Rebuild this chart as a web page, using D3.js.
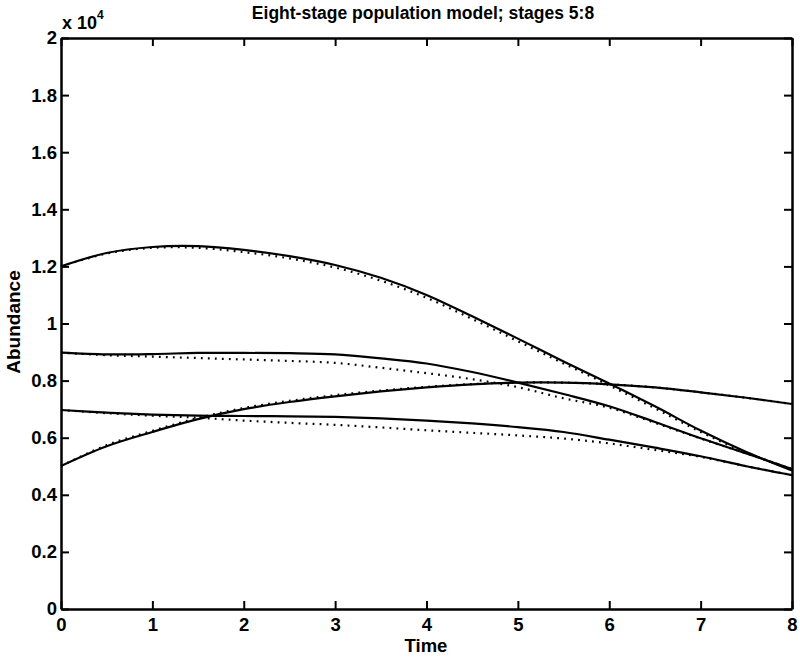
<!DOCTYPE html>
<html><head><meta charset="utf-8">
<script src="https://cdn.jsdelivr.net/npm/d3@7"></script>
<style>body{margin:0;background:#fff}svg{display:block}</style>
</head><body>
<script>
const times = [0,0.5,1,1.5,2,2.5,3,3.5,4,4.5,5,5.5,6,6.5,7,7.5,8];
// values in units of 10^4
const stage5 = [1.200,1.247,1.268,1.271,1.258,1.236,1.205,1.160,1.100,1.025,0.947,0.867,0.790,0.710,0.625,0.550,0.485];
const stage5Approx = [1.200,1.245,1.265,1.265,1.250,1.228,1.196,1.150,1.090,1.016,0.938,0.860,0.783,0.703,0.620,0.548,0.490];
const stage6 = [0.898,0.892,0.893,0.897,0.897,0.896,0.892,0.878,0.860,0.830,0.793,0.753,0.710,0.655,0.598,0.545,0.490];
const stage6Approx = [0.898,0.889,0.884,0.879,0.874,0.869,0.862,0.845,0.826,0.805,0.777,0.738,0.705,0.652,0.597,0.545,0.490];
const stage7 = [0.501,0.570,0.620,0.665,0.700,0.725,0.745,0.762,0.776,0.787,0.793,0.793,0.787,0.776,0.759,0.740,0.718];
const stage7Approx = [0.501,0.574,0.624,0.669,0.704,0.729,0.749,0.765,0.778,0.788,0.793,0.793,0.787,0.776,0.759,0.740,0.718];
const stage8 = [0.697,0.688,0.681,0.677,0.676,0.675,0.673,0.668,0.660,0.650,0.637,0.620,0.593,0.565,0.535,0.500,0.469];
const stage8Approx = [0.697,0.686,0.677,0.670,0.660,0.652,0.645,0.636,0.626,0.617,0.608,0.597,0.580,0.557,0.533,0.500,0.469];
const xTicks = [0,1,2,3,4,5,6,7,8];
const yTicks = [0,0.2,0.4,0.6,0.8,1,1.2,1.4,1.6,1.8,2];
const titleText = "Eight-stage population model; stages 5:8";
const xLabel = "Time";
const yLabel = "Abundance";

const W = 800, H = 659;
const L = 61, R = 792, T = 38, B = 609;
const svg = d3.select("body").append("svg").attr("width", W).attr("height", H);
const x = d3.scaleLinear().domain([0, 8]).range([L, R]);
const y = d3.scaleLinear().domain([0, 2]).range([B, T]);
const font = "'Liberation Sans', Arial, Helvetica, sans-serif";

const line = d3.line().x((d, i) => x(times[i])).y(d => y(d)).curve(d3.curveCatmullRom);
const solids = [stage5, stage6, stage7, stage8];
const dotted = [stage5Approx, stage6Approx, stage7Approx, stage8Approx];
const g = svg.append("g");
dotted.forEach(s => g.append("path").attr("d", line(s)).attr("fill", "none")
  .attr("stroke", "#000").attr("stroke-width", 2.2).attr("stroke-dasharray", "1.8,5.2"));
solids.forEach(s => g.append("path").attr("d", line(s)).attr("fill", "none")
  .attr("stroke", "#000").attr("stroke-width", 2.2));

// axes box
const fmt = d => (Math.round(d * 10) / 10).toString();
const axB = svg.append("g").attr("transform", `translate(0,${B})`)
  .call(d3.axisBottom(x).tickValues(xTicks).tickSizeInner(-8).tickSizeOuter(0).tickPadding(9).tickFormat(fmt));
const axT = svg.append("g").attr("transform", `translate(0,${T})`)
  .call(d3.axisTop(x).tickValues(xTicks).tickSizeInner(-8).tickSizeOuter(0).tickFormat(""));
const axL = svg.append("g").attr("transform", `translate(${L},0)`)
  .call(d3.axisLeft(y).tickValues(yTicks).tickSizeInner(-8).tickSizeOuter(0).tickPadding(4).tickFormat(fmt));
const axR = svg.append("g").attr("transform", `translate(${R},0)`)
  .call(d3.axisRight(y).tickValues(yTicks).tickSizeInner(-8).tickSizeOuter(0).tickFormat(""));
[axB, axT, axL, axR].forEach(a => {
  a.select(".domain").attr("stroke", "#000").attr("stroke-width", 2.5);
  a.selectAll(".tick line").attr("stroke", "#000").attr("stroke-width", 2);
  a.selectAll("text").attr("font-family", font).attr("font-size", 18.5).attr("font-weight", "bold").attr("fill", "#000");
});
axB.selectAll("text").attr("dy", "0.71em");

svg.append("text").attr("x", 423).attr("y", 19).attr("text-anchor", "middle")
  .attr("font-family", font).attr("font-size", 17.5).attr("font-weight", "bold").text(titleText);
svg.append("text").attr("x", 426).attr("y", 652).attr("text-anchor", "middle")
  .attr("font-family", font).attr("font-size", 18.5).attr("font-weight", "bold").text(xLabel);
svg.append("text").attr("transform", "translate(20,322) rotate(-90)").attr("text-anchor", "middle")
  .attr("font-family", font).attr("font-size", 19).attr("font-weight", "bold").text(yLabel);
const mult = svg.append("text").attr("x", 62).attr("y", 29)
  .attr("font-family", font).attr("font-size", 18).attr("font-weight", "bold");
mult.append("tspan").text("x 10");
mult.append("tspan").attr("dy", -10).attr("font-size", 12).text("4");
</script>
</body></html>
